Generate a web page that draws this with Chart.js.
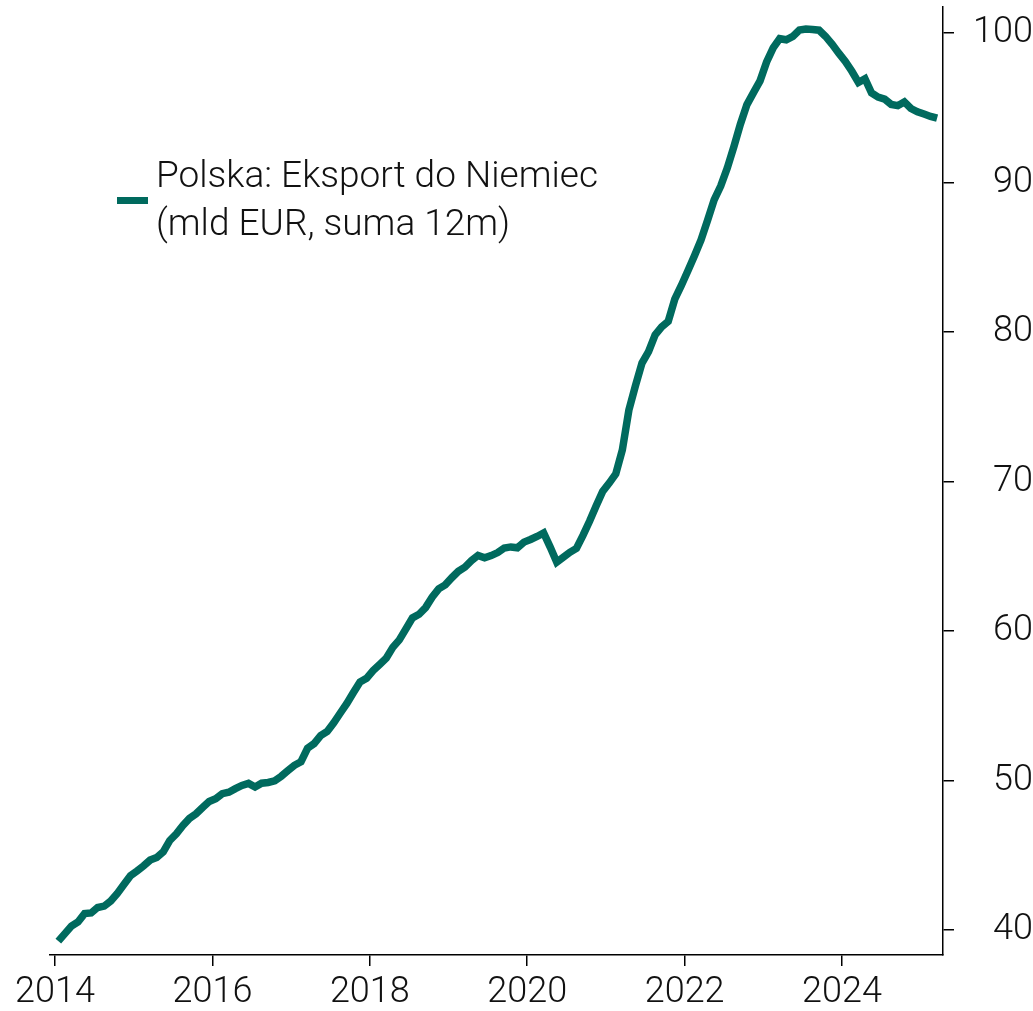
<!DOCTYPE html>
<html>
<head>
<meta charset="utf-8">
<script src="https://cdn.jsdelivr.net/npm/chart.js@4"></script>
<style>
  html, body { margin: 0; padding: 0; background: #fff; }
  #wrap { width: 1033px; height: 1011px; }
</style>
</head>
<body>
<div id="wrap"><canvas id="chart"></canvas></div>
<script>
'use strict';

// monthly, 12m rolling sum of Polish exports to Germany (bn EUR), Jan 2014 - Mar 2025
var startYear = 2014;
var exportValues = [
  39.26, 39.76, 40.26, 40.54, 41.10, 41.14, 41.51, 41.60, 41.94, 42.45, 43.04, 43.63,
  43.95, 44.29, 44.68, 44.85, 45.23, 45.99, 46.44, 47.00, 47.47, 47.78, 48.20, 48.60,
  48.79, 49.12, 49.22, 49.46, 49.67, 49.81, 49.57, 49.82, 49.87, 49.98, 50.29, 50.66,
  51.02, 51.26, 52.16, 52.47, 53.00, 53.28, 53.86, 54.52, 55.16, 55.89, 56.59, 56.84,
  57.36, 57.77, 58.19, 58.91, 59.41, 60.15, 60.88, 61.12, 61.57, 62.27, 62.82, 63.09,
  63.57, 64.00, 64.28, 64.71, 65.06, 64.90, 65.05, 65.25, 65.56, 65.63, 65.57, 65.95,
  66.13, 66.33, 66.56, 65.62, 64.61, 64.94, 65.27, 65.53, 66.40, 67.35, 68.37, 69.34,
  69.90, 70.51, 72.11, 74.78, 76.41, 77.93, 78.69, 79.81, 80.35, 80.72, 82.21, 83.12,
  84.10, 85.11, 86.17, 87.48, 88.85, 89.77, 90.97, 92.39, 93.91, 95.22, 96.02, 96.81,
  98.07, 99.01, 99.63, 99.56, 99.78, 100.21, 100.27, 100.25, 100.20, 99.78, 99.25, 98.66,
  98.11, 97.45, 96.70, 96.95, 96.00, 95.72, 95.59, 95.23, 95.15, 95.40, 94.96, 94.74,
  94.59, 94.43, 94.31
];
var xTicks = [2014, 2016, 2018, 2020, 2022, 2024];
var yTicks = [40, 50, 60, 70, 80, 90, 100];
var legendLines = ['Polska: Eksport do Niemiec', '(mld EUR, suma 12m)'];

var lineColor = '#006a5e';
var fontFamily = 'Roboto, "Noto Sans", sans-serif';

var points = [];
exportValues.forEach(function(v, i) {
  points.push({ x: startYear + (i + 0.5) / 12, y: v });
});

// legend drawn inside the plot, two lines of text next to a short bar
var legendPlugin = {
  id: 'innerLegend',
  afterDraw: function(chart) {
    var ctx = chart.ctx;
    var ds = chart.data.datasets[0];
    ctx.save();
    ctx.fillStyle = ds.borderColor;
    ctx.fillRect(117, 197, 31, 7);
    ctx.fillStyle = '#111';
    ctx.font = '300 37px ' + fontFamily;
    ctx.textBaseline = 'alphabetic';
    ctx.textAlign = 'left';
    legendLines.forEach(function(t, i) {
      ctx.fillText(t, 156, 187 + i * 48);
    });
    ctx.restore();
  }
};

new Chart(document.getElementById('chart').getContext('2d'), {
  type: 'line',
  data: {
    datasets: [{
      label: legendLines.join(' '),
      data: points,
      borderColor: lineColor,
      borderWidth: 7.5,
      pointRadius: 0,
      tension: 0,
      fill: false
    }]
  },
  options: {
    responsive: true,
    maintainAspectRatio: false,
    animation: false,
    layout: { padding: { left: 50, top: 7, right: 0, bottom: 0 } },
    plugins: {
      legend: { display: false },
      tooltip: { enabled: false }
    },
    scales: {
      x: {
        type: 'linear',
        min: 2013.936,
        max: 2025.283,
        afterBuildTicks: function(scale) {
          scale.ticks = xTicks.map(function(v) { return { value: v }; });
        },
        afterFit: function(scale) {
          scale.height = 56;
          scale.paddingLeft = 0;
          scale.paddingRight = 0;
        },
        border: { display: true, color: '#000', width: 1.5 },
        grid: { drawOnChartArea: false, drawTicks: true, tickLength: 11, color: '#000', lineWidth: 1.5 },
        ticks: {
          color: '#111',
          padding: 5,
          maxRotation: 0,
          font: { family: fontFamily, size: 36, weight: '300' },
          callback: function(v) { return String(v); }
        }
      },
      y: {
        position: 'right',
        min: 38.33,
        max: 101.75,
        afterBuildTicks: function(scale) {
          scale.ticks = yTicks.map(function(v) { return { value: v }; });
        },
        afterFit: function(scale) {
          scale.width = 90;
          scale.paddingTop = 0;
          scale.paddingBottom = 0;
        },
        border: { display: true, color: '#000', width: 1.5 },
        grid: { drawOnChartArea: false, drawTicks: true, tickLength: 11, color: '#000', lineWidth: 1.5 },
        ticks: {
          color: '#111',
          padding: 11,
          crossAlign: 'far',
          font: { family: fontFamily, size: 36, weight: '300' }
        }
      }
    }
  },
  plugins: [legendPlugin]
});
</script>
</body>
</html>
